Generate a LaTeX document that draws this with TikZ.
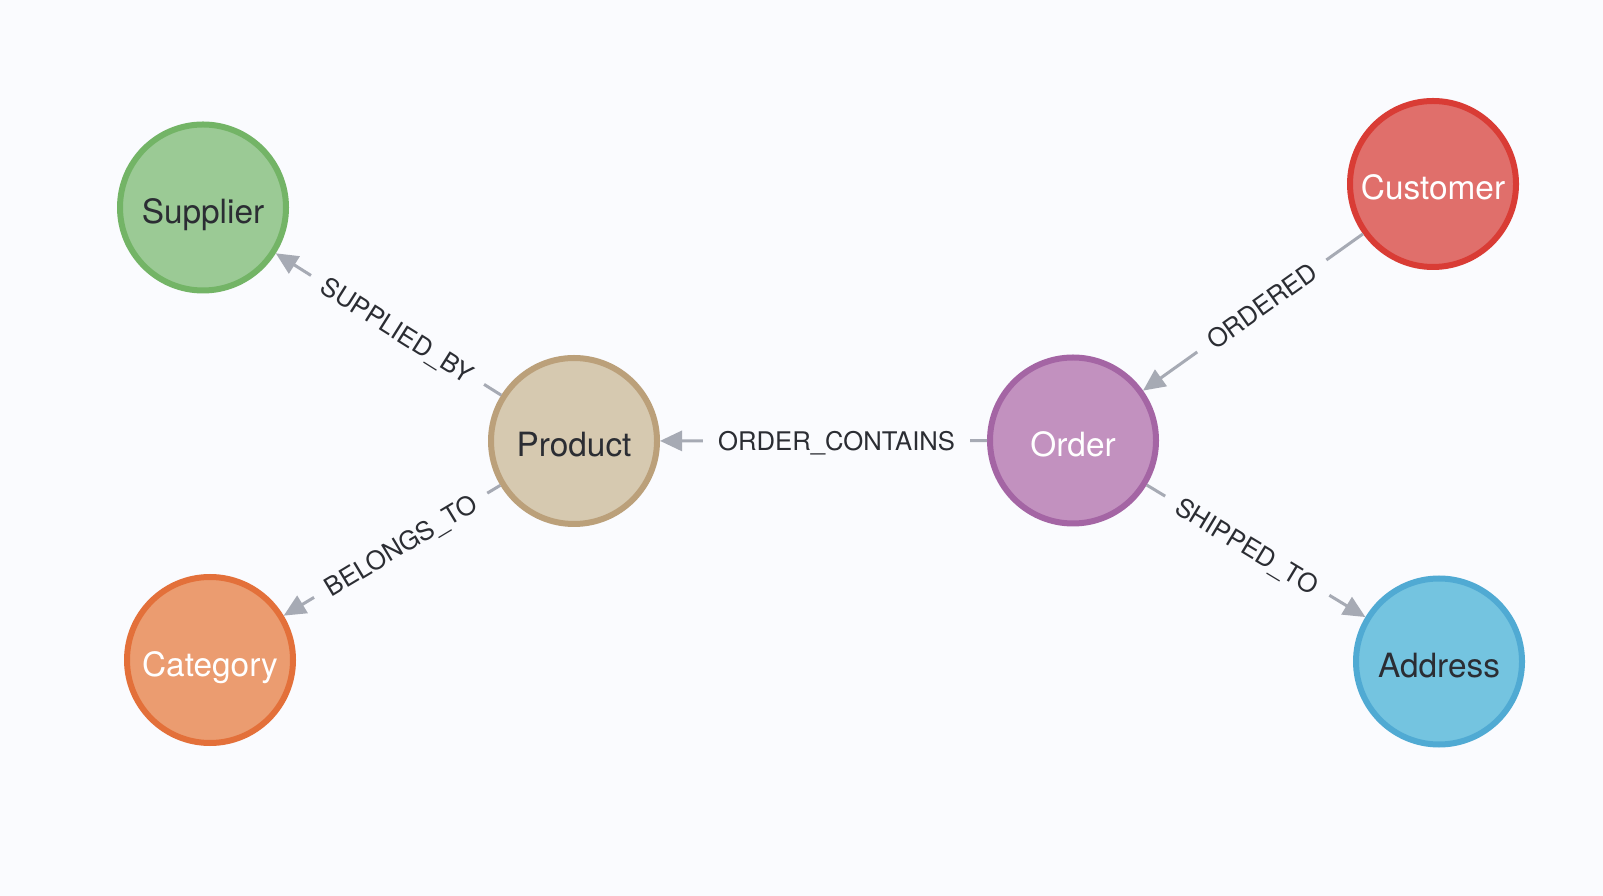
\documentclass[tikz,border=0pt]{standalone}
\usepackage{fontspec}
\setmainfont{TeX Gyre Heros}
\usetikzlibrary{arrows.meta}

\definecolor{bg}{HTML}{FAFBFE}
\definecolor{edgegray}{HTML}{A6AAB4}
\definecolor{darktext}{HTML}{2B2D33}
\definecolor{supplierfill}{HTML}{9BCA95}
\definecolor{supplierline}{HTML}{73B466}
\definecolor{customerfill}{HTML}{E06F6B}
\definecolor{customerline}{HTML}{D93C35}
\definecolor{productfill}{HTML}{D6C9B0}
\definecolor{productline}{HTML}{BBA07A}
\definecolor{orderfill}{HTML}{C291BF}
\definecolor{orderline}{HTML}{A465A4}
\definecolor{categoryfill}{HTML}{EB9C70}
\definecolor{categoryline}{HTML}{E3703A}
\definecolor{addressfill}{HTML}{74C4E0}
\definecolor{addressline}{HTML}{50AAD3}

\begin{document}
\begin{tikzpicture}[
    entity/.style={circle, minimum size=1.66cm, inner sep=0pt, line width=0.06cm,
      text height=0.32cm, text depth=0pt, font=\fontsize{9.5}{11}\selectfont},
    rel/.style={draw=edgegray, line width=0.03cm, -{Triangle[length=0.22cm,width=0.2cm]}},
    rellabel/.style={sloped, pos=0.46, fill=bg, inner xsep=0.15cm, inner ysep=0.05cm,
      text height=0.19cm, text depth=0pt, text=darktext, font=\fontsize{7.3}{8.5}\selectfont}
  ]
    \fill[bg] (0,0) rectangle (16.03,-8.96);
    \useasboundingbox (0,0) rectangle (16.03,-8.96);

    \node (supplier) at (2.03,-2.075) [entity, fill=supplierfill, draw=supplierline, text=darktext] {Supplier};
    \node (customer) at (14.33,-1.84) [entity, fill=customerfill, draw=customerline, text=white] {Customer};
    \node (product) at (5.74,-4.41) [entity, fill=productfill, draw=productline, text=darktext] {Product};
    \node (order) at (10.73,-4.405) [entity, fill=orderfill, draw=orderline, text=white] {Order};
    \node (category) at (2.10,-6.60) [entity, fill=categoryfill, draw=categoryline, text=white] {Category};
    \node (address) at (14.39,-6.615) [entity, fill=addressfill, draw=addressline, text=darktext] {Address};

    \draw[rel] (product) -- node[rellabel] {SUPPLIED\_BY} (supplier);
    \draw[rel] (product) -- node[rellabel] {BELONGS\_TO} (category);
    \draw[rel] (order) -- node[rellabel] {ORDER\_CONTAINS} (product);
    \draw[rel] (customer) -- node[rellabel] {ORDERED} (order);
    \draw[rel] (order) -- node[rellabel] {SHIPPED\_TO} (address);
\end{tikzpicture}
\end{document}
